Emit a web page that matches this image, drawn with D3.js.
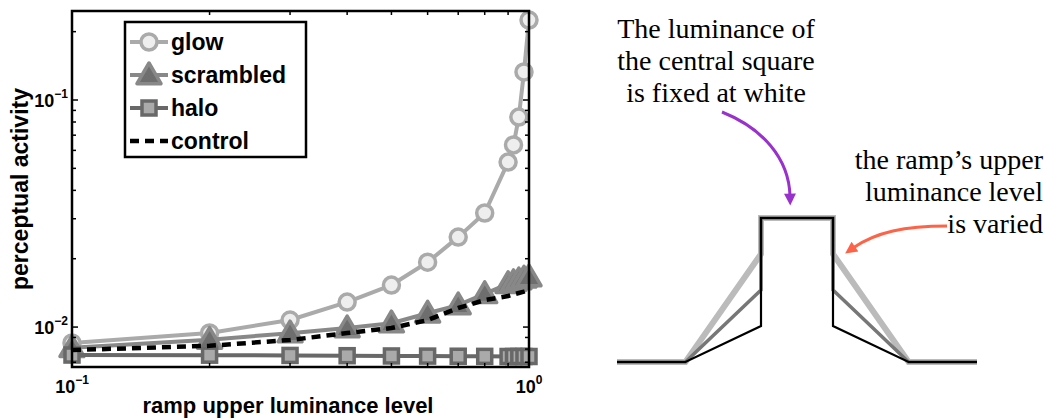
<!DOCTYPE html>
<html><head><meta charset="utf-8">
<script src="https://cdn.jsdelivr.net/npm/d3@7"></script>
<style>body{margin:0;background:#fff} svg{display:block}</style>
</head><body><svg id="c" width="1047" height="420"></svg>
<script>
// ---------- data ----------
const luminance = [0.1,0.2,0.3,0.4,0.5,0.6,0.7,0.8,0.9,0.925,0.95,0.975,1.0];
const glow      = [0.00851,0.00942,0.01074,0.01288,0.01531,0.0193,0.0249,0.0318,0.0533,0.0634,0.0841,0.1329,0.225];
const scrambled = [0.0081,0.0088,0.0094,0.0099,0.0104,0.0115,0.0125,0.0140,0.0155,0.0158,0.0161,0.0164,0.0166];
const halo      = [0.00753,0.00752,0.00750,0.00748,0.00746,0.00745,0.00744,0.00743,0.00742,0.00742,0.00742,0.00742,0.00742];
const control   = [0.00792,0.00827,0.00877,0.00941,0.00990,0.01073,0.01213,0.01315,0.01370,0.01392,0.01412,0.01432,0.01455];
const seriesNames = ["glow","scrambled","halo","control"];
const xTickLabels = [{v:0.1,base:"10",exp:"\u22121"},{v:1,base:"10",exp:"0"}];
const yTickLabels = [{v:0.01,base:"10",exp:"\u22122"},{v:0.1,base:"10",exp:"\u22121"}];
const xLabel = "ramp upper luminance level";
const yLabel = "perceptual activity";
// diagram data
const profileX = [0,0.19,0.4,0.4,0.6,0.6,0.81,1];
const rampLevels = [0.75,0.5,0.25];
const noteLeft = ["The luminance of","the central square","is fixed at white"];
const noteRight = ["the ramp\u2019s upper","luminance level","is varied"];

// ---------- chart ----------
const svg = d3.select("#c");
const W = {l:72,r:529,t:11,b:367};
const x = d3.scaleLog().domain([0.1,1]).range([W.l,W.r]);
const y = d3.scaleLog().domain([0.00667,0.2466]).range([W.b,W.t]);

const defs = svg.append("defs");

const styles = {
  glow:{color:"#aaaaaa",w:4,dash:null},
  scrambled:{color:"#888888",w:4,dash:null},
  halo:{color:"#686868",w:4,dash:null},
  control:{color:"#000000",w:4.5,dash:"9,6"}
};
const seriesData = {glow,scrambled,halo,control};
const line = d3.line().x((d,i)=>x(luminance[i])).y(d=>y(d));
const g = svg.append("g");

function marker(sel,name,cx,cy){
  if(name==="glow"){
    sel.append("circle").attr("cx",cx).attr("cy",cy).attr("r",8)
      .attr("fill","#eeeeee").attr("stroke","#aaaaaa").attr("stroke-width",3.5);
  } else if(name==="scrambled"){
    const s=12;
    sel.append("path").attr("d",`M${cx},${cy-s}L${cx+s},${cy+s*0.72}L${cx-s},${cy+s*0.72}Z`)
      .attr("fill","#6e6e6e").attr("stroke","#888888").attr("stroke-width",3.5).attr("stroke-linejoin","round");
  } else if(name==="halo"){
    sel.append("rect").attr("x",cx-7).attr("y",cy-7).attr("width",14).attr("height",14)
      .attr("fill","#aaaaaa").attr("stroke","#686868").attr("stroke-width",3.5);
  }
}

seriesNames.forEach(name=>{
  const st = styles[name];
  g.append("path").datum(seriesData[name]).attr("d",line).attr("fill","none")
    .attr("stroke",st.color).attr("stroke-width",st.w).attr("stroke-dasharray",st.dash)
    .attr("stroke-linejoin","round");
  if(name!=="control"){
    seriesData[name].forEach((v,i)=>marker(g,name,x(luminance[i]),y(v)));
  }
});

// frame
const ax = svg.append("g");
ax.append("rect").attr("x",W.l).attr("y",W.t).attr("width",W.r-W.l).attr("height",W.b-W.t)
  .attr("fill","none").attr("stroke","#000").attr("stroke-width",2.5);
const isMajor = v => Math.abs(Math.log10(v)-Math.round(Math.log10(v)))<1e-9;
x.ticks().forEach(t=>{
  const L = isMajor(t)?6:4, px=x(t);
  ax.append("line").attr("x1",px).attr("x2",px).attr("y1",W.b).attr("y2",W.b-L).attr("stroke","#000").attr("stroke-width",1.5);
  ax.append("line").attr("x1",px).attr("x2",px).attr("y1",W.t).attr("y2",W.t+L).attr("stroke","#000").attr("stroke-width",1.5);
});
y.ticks().forEach(t=>{
  const L = isMajor(t)?6:4, py=y(t);
  ax.append("line").attr("y1",py).attr("y2",py).attr("x1",W.l).attr("x2",W.l+L).attr("stroke","#000").attr("stroke-width",1.5);
  ax.append("line").attr("y1",py).attr("y2",py).attr("x1",W.r).attr("x2",W.r-L).attr("stroke","#000").attr("stroke-width",1.5);
});
const font = "'Liberation Sans', Arial, Helvetica, sans-serif";
xTickLabels.forEach(d=>{
  const t = ax.append("text").attr("x",x(d.v)).attr("y",W.b+26).attr("text-anchor","middle")
    .attr("font-family",font).attr("font-weight","bold").attr("font-size",18);
  t.append("tspan").text(d.base);
  t.append("tspan").attr("dy",-9).attr("font-size",12).text(d.exp);
});
yTickLabels.forEach(d=>{
  const t = ax.append("text").attr("x",W.l-4).attr("y",y(d.v)+7).attr("text-anchor","end")
    .attr("font-family",font).attr("font-weight","bold").attr("font-size",18);
  t.append("tspan").text(d.base);
  t.append("tspan").attr("dy",-9).attr("font-size",12).text(d.exp);
});
svg.append("text").attr("x",288).attr("y",413).attr("text-anchor","middle")
  .attr("font-family",font).attr("font-weight","bold").attr("font-size",22).text(xLabel);
svg.append("text").attr("transform",`translate(28,${(W.t+W.b)/2}) rotate(-90)`).attr("text-anchor","middle")
  .attr("font-family",font).attr("font-weight","bold").attr("font-size",23).text(yLabel);

// legend
const lg = svg.append("g");
lg.append("rect").attr("x",125).attr("y",22).attr("width",181).attr("height",135)
  .attr("fill","#fff").attr("stroke","#000").attr("stroke-width",2.5);
const legendY = d3.scalePoint().domain(seriesNames).range([42,141]);
seriesNames.forEach(name=>{
  const st = styles[name], ly = legendY(name);
  lg.append("line").attr("x1",130).attr("x2",168).attr("y1",ly).attr("y2",ly)
    .attr("stroke",st.color).attr("stroke-width",st.w).attr("stroke-dasharray",st.dash);
  marker(lg,name,149,ly);
  lg.append("text").attr("x",171).attr("y",ly+8).attr("font-family",font).attr("font-weight","bold")
    .attr("font-size",23).text(name);
});

// ---------- diagram ----------
const dx = d3.scaleLinear().domain([0,1]).range([617,977]);
const dy = d3.scaleLinear().domain([0,1]).range([362,218]);
const dg = svg.append("g");
const profStyles = [{c:"#bbbbbb",w:6},{c:"#777777",w:3.5},{c:"#000000",w:2.2}];
rampLevels.forEach((L,k)=>{
  const pts = [0,0,L,1,1,L,0,0];
  const dl = d3.line().x((d,i)=>dx(profileX[i])).y(d=>dy(d));
  dg.append("path").datum(pts).attr("d",dl).attr("fill","none")
    .attr("stroke",profStyles[k].c).attr("stroke-width",profStyles[k].w).attr("stroke-linejoin","miter");
});
const serif = "'Liberation Serif', 'Times New Roman', serif";
const tl = svg.append("text").attr("font-family",serif).attr("font-size",28).attr("text-anchor","middle").attr("fill","#000");
noteLeft.forEach((s,i)=>tl.append("tspan").attr("x",716).attr("y",38+i*32).text(s));
const tr = svg.append("text").attr("font-family",serif).attr("font-size",28).attr("text-anchor","end").attr("fill","#000");
noteRight.forEach((s,i)=>tr.append("tspan").attr("x",1043).attr("y",169+i*32).text(s));

function arrowHead(id,color){
  defs.append("marker").attr("id",id).attr("viewBox","0 0 10 10").attr("refX",2).attr("refY",5)
    .attr("markerWidth",15).attr("markerHeight",12).attr("markerUnits","userSpaceOnUse").attr("orient","auto")
    .append("path").attr("d","M0,0L10,5L0,10Z").attr("fill",color);
}
arrowHead("ap","#9932cc");
arrowHead("ar","#ff6347");
svg.append("path").attr("d","M722,112 C762,128 789,158 790,196").attr("fill","none")
  .attr("stroke","#9932cc").attr("stroke-width",3).attr("marker-end","url(#ap)");
svg.append("path").attr("d","M947,226 C905,226 876,232 853,248").attr("fill","none")
  .attr("stroke","#ff6347").attr("stroke-width",3).attr("marker-end","url(#ar)");
</script></body></html>
